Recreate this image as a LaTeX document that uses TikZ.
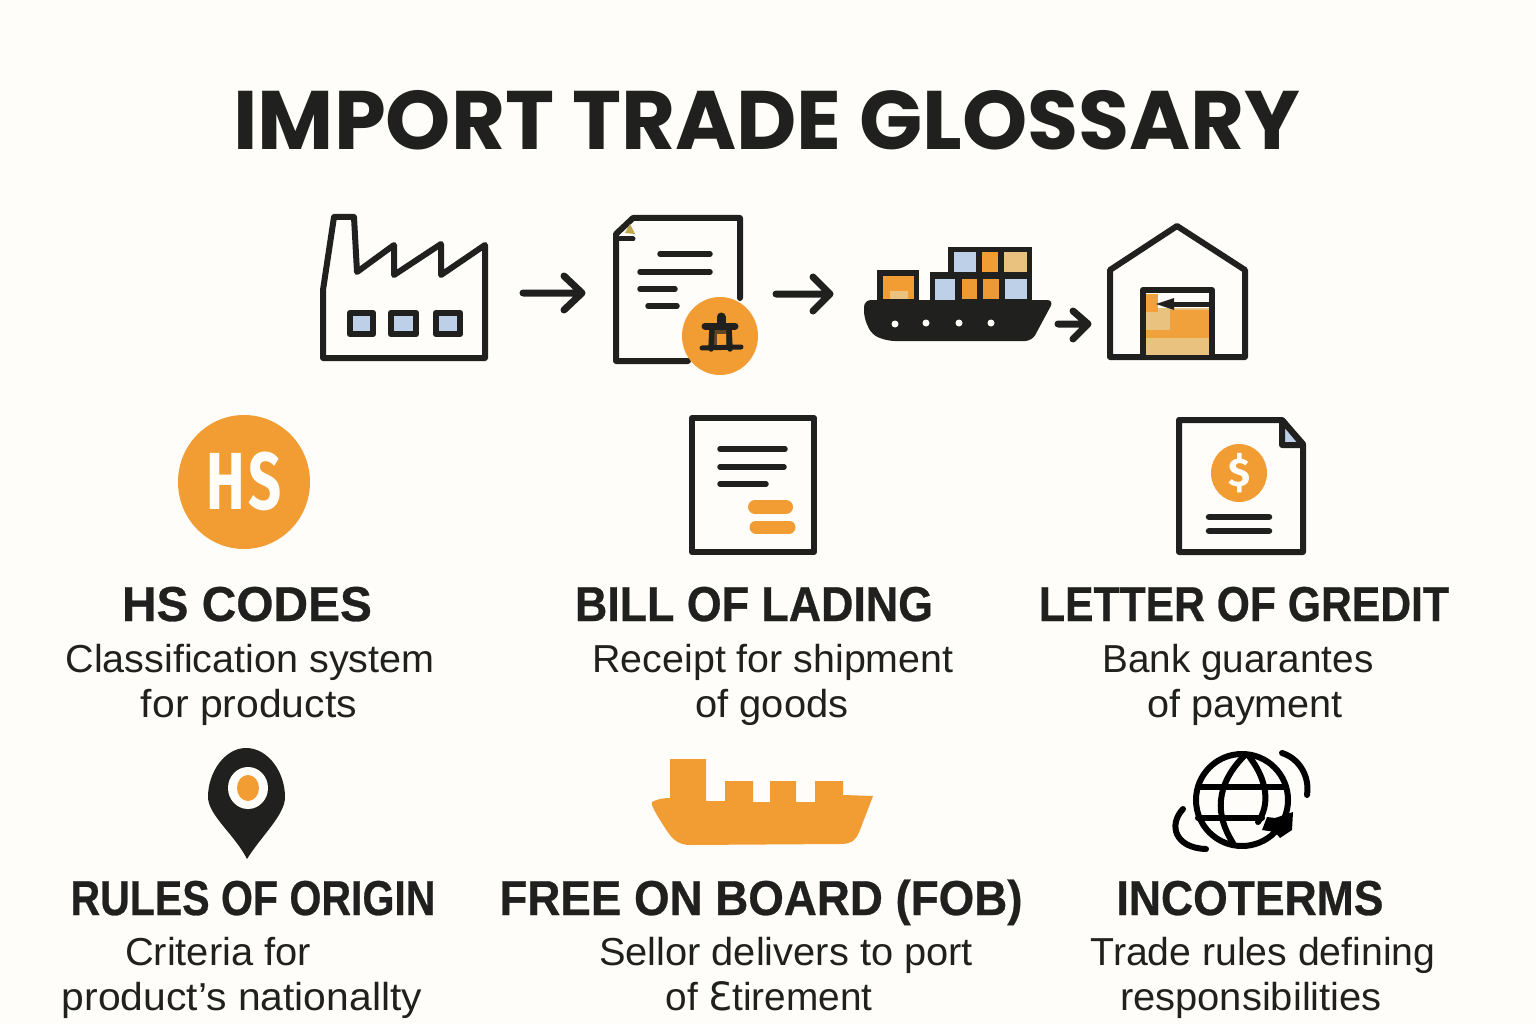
\documentclass[tikz,border=0pt]{standalone}
\usepackage{fontspec}
\setmainfont{Liberation Sans}
\newfontfamily\titlefont{Poppins}
\newfontfamily\headfont[BoldFeatures={FakeBold=0.6}]{Liberation Sans}
\newfontfamily\bodyfont{Liberation Sans}
\newfontfamily\hsfont{Fira Sans}
\newfontfamily\oddfont{DejaVu Sans}
\definecolor{ink}{HTML}{20211F}
\definecolor{amber}{HTML}{F29D33}
\definecolor{paper}{HTML}{FEFDF9}
\definecolor{sky}{HTML}{BDD0E8}
\definecolor{tan}{HTML}{E9C27F}
\newcommand{\fitw}[2]{\resizebox{#1pt}{\height}{#2}}
\tikzset{
  x=1pt,y=-1pt,
  titletext/.style={text=ink,inner sep=0,font=\titlefont\bfseries\fontsize{83}{90}\selectfont},
  headtext/.style={text=ink,inner sep=0,anchor=base,font=\headfont\bfseries\fontsize{49}{52}\selectfont},
  bodytext/.style={text=ink,inner sep=0,anchor=base,font=\bodyfont\fontsize{39}{44}\selectfont},
  lineart/.style={draw=ink,line width=6pt,line join=round,line cap=round},
  textline/.style={draw=ink,line width=5.5pt,line cap=round},
  flowarrow/.style={draw=ink,line width=7pt,line cap=round,line join=round},
  globeline/.style={draw=black,line width=6pt,line cap=round},
}
\begin{document}
\begin{tikzpicture}
\fill[paper] (0,0) rectangle (1536,1024);
\useasboundingbox (0,0) rectangle (1536,1024);
% title
\node[titletext] (title) at (767,120) {\fitw{1067}{IMPORT TRADE GLOSSARY}};
% factory
\draw[lineart] (323,358) -- (323,290) -- (334,217) -- (354,217) -- (357,272) -- (394,245) -- (394,275) -- (441,244) -- (441,275) -- (485,245) -- (485,358) -- cycle;
\foreach \xa/\xb in {350/373,391/416,436/460}{
  \filldraw[fill=sky,draw=ink,line width=6.5pt,line join=round] (\xa,313) rectangle (\xb,334);
}
% document with badge
\draw[lineart] (740,298) -- (740,218) -- (633,218) -- (616,234) -- (616,361) -- (688,361);
\draw[draw=ink,line width=5pt,line cap=round] (620,239) -- (633,239);
\fill[tan!60!olive] (630,224) -- (635,234) -- (625,233) -- cycle;
\foreach \xa/\xb/\yy in {660/710/254,640/710/272,640/675/289,648/677/306}{
  \draw[textline] (\xa,\yy) -- (\xb,\yy);
}
\fill[amber] (720,336) circle[x radius=38,y radius=39];
\fill[ink!70!amber] (713,330) rectangle (729,347);
\fill[amber] (717,334) rectangle (726,346);
\draw[draw=ink,line width=7pt,line cap=round] (705,326) -- (735,326);
\draw[draw=ink,line width=5pt,line cap=round] (702,348) -- (741,347);
\draw[draw=ink,line width=5.5pt,line cap=round] (712,328) -- (711,349);
\draw[draw=ink,line width=5.5pt,line cap=round] (729,328) -- (730,349);
\draw[draw=ink,line width=9pt,line cap=round] (721,317) -- (721,326);
% arrows
\coordinate (a1s) at (523,293); \coordinate (a1e) at (582,293);
\draw[flowarrow] (a1s) -- (a1e) (564,276) -- (582,293) -- (564,310);
\coordinate (a2s) at (776,294); \coordinate (a2e) at (830,294);
\draw[flowarrow] (a2s) -- (a2e) (813,277) -- (830,294) -- (813,311);
\coordinate (a3s) at (1058,324); \coordinate (a3e) at (1088,324);
\draw[flowarrow] (a3s) -- (a3e) (1073,311) -- (1088,324) -- (1073,339);
% ship containers
\fill[ink] (877,270) rectangle (919,302);
\fill[ink] (930,272) rectangle (1032,302);
\fill[ink] (948,247) rectangle (1032,275);
\fill[amber] (883,276) rectangle (914,299);
\fill[tan] (890,291) rectangle (908,299);
\fill[sky] (935,279) rectangle (955,300);
\fill[amber!90!brown] (962,279) rectangle (977,299);
\fill[amber!90!brown] (983,279) rectangle (999,299);
\fill[sky] (1005,279) rectangle (1027,299);
\fill[sky] (954,252) rectangle (976,272);
\fill[amber] (982,252) rectangle (998,272);
\fill[tan] (1004,252) rectangle (1027,272);
% ship hull
\fill[ink,rounded corners=7pt] (864,300) -- (1054,300) -- (1032,341) -- (888,341) -- (872,335) -- (864,318) -- cycle;
\foreach \xa/\ya in {895/324,926/323,959/323,991/323}{
  \fill[paper] (\xa,\ya) circle[radius=3.5];
}
% warehouse
\draw[lineart] (1110,357) -- (1110,270) -- (1177,226) -- (1245,270) -- (1245,357) -- cycle;
\fill[tan] (1145,308) rectangle (1210,355);
\fill[amber!85!tan] (1146,294) rectangle (1158,312);
\fill[amber!90!tan] (1170,310) rectangle (1210,332);
\fill[amber!90!tan] (1145,330) rectangle (1210,338);
\draw[lineart] (1143,356) -- (1143,290) -- (1212,290) -- (1212,356);
\draw[draw=ink,line width=5pt] (1168,304) -- (1212,304);
\fill[ink] (1156,304) -- (1174,298) -- (1174,310) -- cycle;
% HS
\fill[amber] (244,482) circle[x radius=66,y radius=67];
\node[inner sep=0,text=paper,font=\hsfont\bfseries\fontsize{81}{81}\selectfont] (hs) at (244,481) {\fitw{76}{H\kern6pt S}};
% bill of lading
\draw[draw=ink,line width=6pt,line join=round] (692,418) rectangle (814,552);
\draw[textline] (720,449) -- (785,449);
\draw[textline] (720,467) -- (784,467);
\draw[textline] (720,484) -- (766,484);
\draw[draw=amber,line width=14pt,line cap=round] (755,507) -- (786,507);
\draw[draw=amber,line width=13pt,line cap=round] (756,527) -- (789,527);
% letter of credit
\draw[lineart] (1179,552) -- (1179,420) -- (1282,420) -- (1303,444) -- (1303,552) -- cycle;
\filldraw[fill=sky,draw=ink,line width=6pt,line join=round] (1282,420) -- (1303,445) -- (1282,445) -- cycle;
\fill[amber] (1239,473) circle[x radius=28,y radius=29];
\node[inner sep=0,text=paper,font=\hsfont\bfseries\fontsize{40}{40}\selectfont] (dollar) at (1239,473) {\$};
\draw[textline,line width=6.5pt] (1209,517) -- (1269,517);
\draw[textline,line width=6.5pt] (1209,531) -- (1269,531);
% pin
\fill[ink] (246,748) .. controls (268,748) and (285,772) .. (285,797)
  .. controls (285,815) and (262,835) .. (247,859)
  .. controls (235,835) and (208,815) .. (208,797)
  .. controls (208,772) and (225,748) .. (246,748) -- cycle;
\fill[paper] (248,788) circle[x radius=20,y radius=21];
\fill[amber] (248,788) circle[x radius=11,y radius=13];
% FOB ship
\fill[amber] (652,802) .. controls (657,799) and (664,798) .. (670,798) -- (670,759) -- (706,759) -- (706,801) -- (725,801) -- (725,781) -- (753,781) -- (753,802) -- (770,802) -- (770,781) -- (796,781) -- (796,802) -- (815,802) -- (815,781) -- (843,781) -- (843,795) -- (873,796) -- (860,830) .. controls (856,840) and (852,844) .. (840,844) -- (690,845) .. controls (675,845) and (670,835) .. (665,828) .. controls (660,820) and (650,805) .. (652,802) -- cycle;
% globe
\draw[globeline] (1242,800) circle[radius=46];
\draw[globeline] (1245,755) .. controls (1215,785) and (1215,815) .. (1233,843);
\draw[globeline] (1248,755) .. controls (1268,780) and (1270,805) .. (1258,822);
\draw[globeline] (1198,787) -- (1286,787);
\draw[globeline] (1198,818) -- (1262,818);
\draw[globeline] (1282,753) .. controls (1298,758) and (1310,775) .. (1307,795);
\draw[globeline] (1183,809) .. controls (1168,825) and (1175,848) .. (1206,849);
\fill[black] (1262,830) -- (1267,817) -- (1275,818) -- (1293,812) -- (1292,830) -- (1280,838) -- (1275,832) -- cycle;
% headings
\node[headtext] (t1) at (247,621) {\fitw{250}{HS CODES}};
\node[headtext] (t2) at (754,621) {\fitw{358}{BILL OF LADING}};
\node[headtext] (t3) at (1244,621) {\fitw{410}{LETTER OF GREDIT}};
\node[headtext] (t4) at (253,915) {\fitw{365}{RULES OF ORIGIN}};
\node[headtext] (t5) at (761,915) {\fitw{523}{FREE ON BOARD (FOB)}};
\node[headtext] (t6) at (1250,915) {\fitw{267}{INCOTERMS}};
% body
\node[bodytext] (b1) at (250,672) {\fitw{369}{Classification system}};
\node[bodytext] (b1b) at (249,717) {\fitw{216}{for products}};
\node[bodytext] (b2) at (773,672) {\fitw{361}{Receipt for shipment}};
\node[bodytext] (b2b) at (772,717) {\fitw{153}{of goods}};
\node[bodytext] (b3) at (1238,672) {\fitw{271}{Bank guarantes}};
\node[bodytext] (b3b) at (1245,717) {\fitw{196}{of payment}};
\node[bodytext] (b4) at (218,965) {\fitw{186}{Criteria for}};
\node[bodytext] (b4b) at (242,1010) {\fitw{360}{product’s nationallty}};
\node[bodytext] (b5) at (786,965) {\fitw{374}{Sellor delivers to port}};
\node[bodytext] (b5b) at (769,1010) {\fitw{207}{of {\oddfont Ɛ}tirement}};
\node[bodytext] (b6) at (1263,965) {\fitw{345}{Trade rules defining}};
\node[bodytext] (b6b) at (1251,1010) {\fitw{262}{responsibilities}};
\end{tikzpicture}
\end{document}
